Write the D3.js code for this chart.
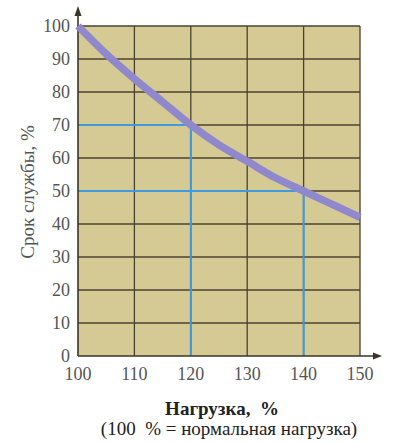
<!DOCTYPE html>
<html><head><meta charset="utf-8">
<script src="https://cdn.jsdelivr.net/npm/d3@7"></script>
</head><body style="margin:0">
<script>
const loadX = [100,105,110,115,120,125,130,135,140,145,150];
const lifeY = [100,91.5,84,77,70,64,59,54,50,46,42];
const xTicks = [100,110,120,130,140,150];
const yTicks = [0,10,20,30,40,50,60,70,80,90,100];
const guides = [{x:120,y:70},{x:140,y:50}];
const xTitle = "Нагрузка,  %";
const xSub = "(100  % = нормальная нагрузка)";
const yTitle = "Срок службы, %";

const W=400,H=442;
const svg=d3.select("body").append("svg").attr("width",W).attr("height",H).style("display","block")
  .attr("font-family","Liberation Serif");
const x=d3.scaleLinear().domain([100,150]).range([78,360]);
const y=d3.scaleLinear().domain([0,100]).range([356,26]);

svg.append("rect").attr("x",x(100)).attr("y",y(100)).attr("width",x(150)-x(100)).attr("height",y(0)-y(100)).attr("fill","#d5ca93");

const g=svg.append("g");
g.selectAll(".vg").data(xTicks.slice(1)).join("line").attr("x1",d=>x(d)).attr("x2",d=>x(d)).attr("y1",y(0)).attr("y2",y(100)).attr("stroke","#4a4232").attr("stroke-width",1.3);
g.selectAll(".hg").data(yTicks.slice(1)).join("line").attr("y1",d=>y(d)).attr("y2",d=>y(d)).attr("x1",x(100)).attr("x2",x(150)).attr("stroke","#4a4232").attr("stroke-width",1.3);

guides.forEach(p=>{
  svg.append("path").attr("d",`M${x(100)},${y(p.y)}H${x(p.x)}V${y(0)}`).attr("fill","none").attr("stroke","#3f9be0").attr("stroke-width",2);
});

svg.append("line").attr("x1",x(100)).attr("x2",x(150)+18).attr("y1",y(0)).attr("y2",y(0)).attr("stroke","#3a3528").attr("stroke-width",1.6);
svg.append("line").attr("x1",x(100)).attr("x2",x(100)).attr("y1",y(0)).attr("y2",y(100)-16).attr("stroke","#3a3528").attr("stroke-width",1.6);
svg.append("path").attr("d",`M${x(150)+22},${y(0)}l-9,-3.5v7z`).attr("fill","#3a3528");
svg.append("path").attr("d",`M${x(100)},${y(100)-20}l-3.5,10h7z`).attr("fill","#3a3528");

svg.append("path").datum(loadX.map((d,i)=>[d,lifeY[i]]))
  .attr("d",d3.line().x(d=>x(d[0])).y(d=>y(d[1])).curve(d3.curveMonotoneX))
  .attr("fill","none").attr("stroke","#8f88cc").attr("stroke-width",7.5).attr("stroke-linecap","butt");

svg.selectAll(".xt").data(xTicks).join("text").attr("x",d=>x(d)).attr("y",380).attr("text-anchor","middle")
  .attr("font-size",18).attr("fill","#555").text(d=>d);
svg.selectAll(".yt").data(yTicks).join("text").attr("x",70).attr("y",d=>y(d)+6).attr("text-anchor","end")
  .attr("font-size",18).attr("fill","#555").text(d=>d);

svg.append("text").attr("x",222).attr("y",415).attr("text-anchor","middle").attr("font-size",19).attr("font-weight","bold").attr("fill","#222").attr("xml:space","preserve").text(xTitle);
svg.append("text").attr("x",229).attr("y",435).attr("text-anchor","middle").attr("font-size",19).attr("fill","#222").attr("xml:space","preserve").text(xSub);
svg.append("text").attr("transform","translate(34,192) rotate(-90)").attr("text-anchor","middle").attr("font-size",19).attr("fill","#555").text(yTitle);
</script>
</body></html>
